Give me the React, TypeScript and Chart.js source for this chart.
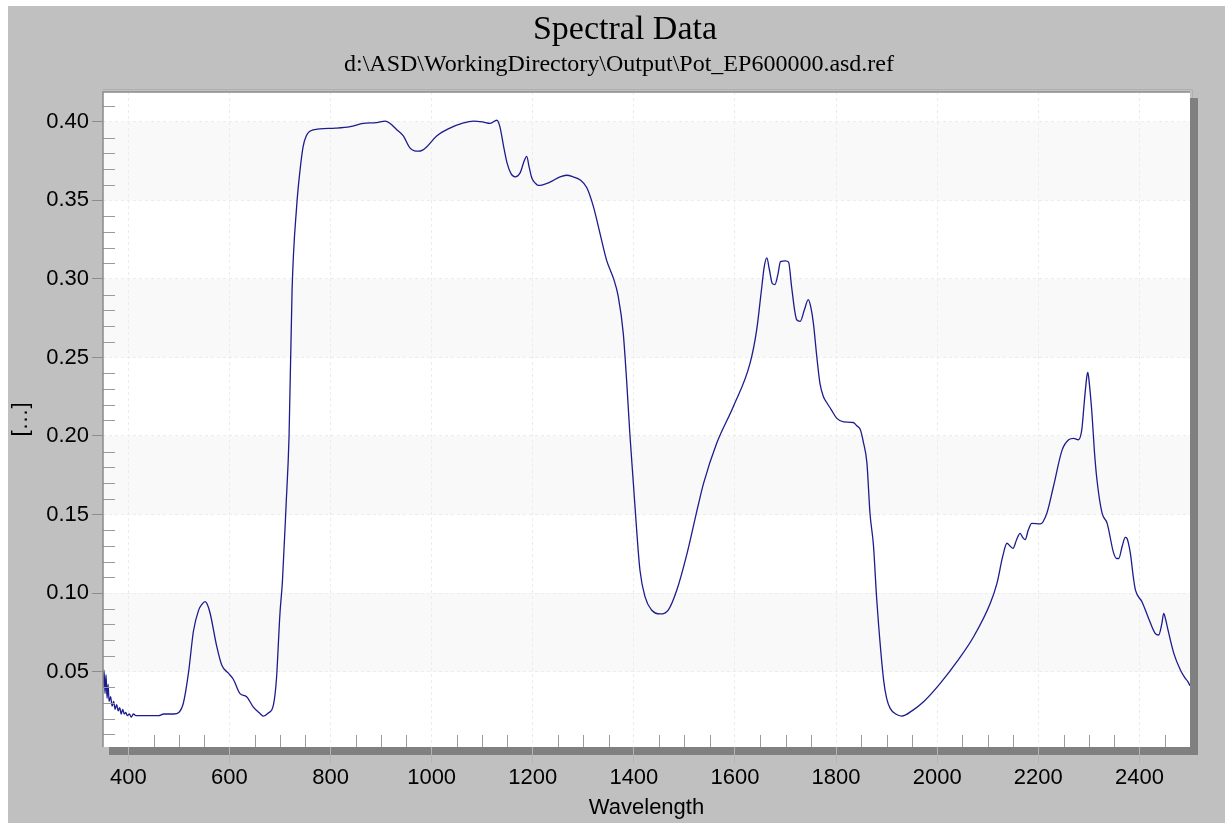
import React, { useEffect, useRef } from "react";
import { Chart, registerables } from "chart.js";

Chart.register(...registerables);

// Spectral reflectance
const wavelengths = [
  350, 352, 354, 356, 358, 360, 362, 365, 368, 371, 374, 377, 380, 383, 386, 389, 392, 395, 398,
  402, 406, 410, 415, 420, 430, 440, 450, 460, 470, 480, 490, 500, 509, 519, 529, 539, 546, 552,
  556, 562, 575, 585, 598, 608, 621, 634, 647, 660, 667, 677, 687, 693, 700, 705, 712, 718, 724,
  733, 740, 746, 752, 759, 779, 810, 839, 865, 891, 908, 918, 931, 944, 957, 966, 974, 982, 990,
  1010, 1036, 1060, 1083, 1100, 1116, 1129, 1135, 1142, 1149, 1157, 1165, 1175, 1183, 1188, 1193,
  1198, 1205, 1211, 1234, 1254, 1267, 1280, 1294, 1307, 1320, 1333, 1346, 1360, 1369, 1379, 1386,
  1392, 1399, 1406, 1412, 1422, 1435, 1452, 1468, 1485, 1505, 1528, 1538, 1564, 1597, 1630, 1643,
  1652, 1658, 1663, 1668, 1674, 1679, 1685, 1690, 1700, 1706, 1712, 1718, 1722, 1729, 1737, 1745,
  1750, 1755, 1762, 1768, 1775, 1782, 1790, 1801, 1815, 1834, 1841, 1848, 1854, 1861, 1867, 1874,
  1880, 1884, 1894, 1900, 1907, 1918, 1930, 1950, 1973, 2006, 2039, 2072, 2105, 2118, 2130, 2138,
  2144, 2150, 2157, 2164, 2169, 2174, 2180, 2187, 2204, 2217, 2230, 2247, 2260, 2270, 2279, 2286,
  2291, 2296, 2298, 2301, 2306, 2311, 2316, 2326, 2336, 2349, 2355, 2359, 2366, 2372, 2375, 2382,
  2388, 2392, 2405, 2418, 2431, 2438, 2444, 2448, 2452, 2455, 2468, 2481, 2490, 2496, 2500,
];

const reflectance = [
  0.040, 0.051, 0.036, 0.048, 0.033, 0.042, 0.031, 0.034, 0.028, 0.031, 0.026, 0.029, 0.025, 0.027,
  0.023, 0.026, 0.023, 0.024, 0.022, 0.023, 0.021, 0.023, 0.022, 0.022, 0.022, 0.022, 0.022, 0.022,
  0.023, 0.023, 0.023, 0.024, 0.030, 0.049, 0.076, 0.089, 0.093, 0.0945, 0.093, 0.087, 0.066, 0.054,
  0.049, 0.045, 0.036, 0.034, 0.0276, 0.0235, 0.0217, 0.0236, 0.0287, 0.045, 0.087, 0.108, 0.155,
  0.200, 0.293, 0.346, 0.370, 0.3845, 0.391, 0.394, 0.3955, 0.396, 0.397, 0.399, 0.3995, 0.4005,
  0.399, 0.395, 0.391, 0.3834, 0.3815, 0.3813, 0.382, 0.384, 0.391, 0.396, 0.399, 0.4005, 0.400,
  0.399, 0.401, 0.397, 0.385, 0.374, 0.367, 0.365, 0.3675, 0.375, 0.378, 0.371, 0.3644, 0.361,
  0.3595, 0.3616, 0.365, 0.366, 0.365, 0.363, 0.358, 0.346, 0.329, 0.312, 0.300, 0.289, 0.2655,
  0.2337, 0.2018, 0.170, 0.138, 0.1147, 0.0977, 0.0892, 0.0867, 0.0892, 0.102, 0.125, 0.157, 0.170,
  0.1955, 0.219, 0.2465, 0.2677, 0.292, 0.308, 0.3134, 0.306, 0.297, 0.2964, 0.303, 0.311, 0.3115,
  0.3107, 0.295, 0.280, 0.274, 0.273, 0.280, 0.2868, 0.282, 0.272, 0.250, 0.2337, 0.225, 0.221,
  0.217, 0.2114, 0.209, 0.2086, 0.2065, 0.204, 0.196, 0.1827, 0.151, 0.130, 0.0977, 0.080, 0.0446,
  0.033, 0.0266, 0.023, 0.0217, 0.025, 0.0308, 0.0425, 0.0563, 0.0722, 0.0935, 0.106, 0.124, 0.1317,
  0.130, 0.1285, 0.134, 0.138, 0.1355, 0.134, 0.140, 0.1444, 0.144, 0.151, 0.168, 0.191, 0.1976,
  0.1985, 0.1976, 0.204, 0.222, 0.238, 0.2405, 0.233, 0.2146, 0.190, 0.172, 0.151, 0.1445, 0.1254,
  0.122, 0.122, 0.130, 0.1355, 0.135, 0.1254, 0.110, 0.102, 0.0945, 0.084, 0.0744, 0.0733, 0.080,
  0.087, 0.083, 0.0786, 0.0616, 0.051, 0.046, 0.0435, 0.041,
];

const xTickValues = [400, 600, 800, 1000, 1200, 1400, 1600, 1800, 2000, 2200, 2400];
const yTickValues = [0.05, 0.1, 0.15, 0.2, 0.25, 0.3, 0.35, 0.4];
const shadedBands = [
  [0.05, 0.1],
  [0.15, 0.2],
  [0.25, 0.3],
  [0.35, 0.4],
];
const xRange = [350, 2500];
const yRange = [0.002, 0.419];
const xMinorStep = 50;
const yMinorStep = 0.01;

const TITLE = "Spectral Data";
const SUBTITLE = "d:\\ASD\\WorkingDirectory\\Output\\Pot_EP600000.asd.ref";
const X_TITLE = "Wavelength";
const Y_TITLE = "[…]";

const CANVAS_W = 1217;
const CANVAS_H = 817;

const headerPlugin = {
  id: "headerPlugin",
  afterDraw(chart: any) {
    const { ctx } = chart;
    ctx.save();
    ctx.fillStyle = "#000000";
    ctx.textAlign = "center";
    ctx.textBaseline = "middle";
    ctx.font = "34px 'Liberation Serif', 'Times New Roman', serif";
    ctx.fillText(TITLE, 617, 24);
    ctx.font = "24px 'Liberation Serif', 'Times New Roman', serif";
    ctx.fillText(SUBTITLE, 611, 59);
    ctx.restore();
  },
};

const framePlugin = {
  id: "framePlugin",
  beforeDraw(chart: any) {
    const { ctx, chartArea } = chart;
    const { left, right, top, bottom } = chartArea;
    const y = chart.scales.y;
    ctx.save();
    // drop shadow
    ctx.fillStyle = "#808080";
    ctx.fillRect(right, top + 6, 8, bottom - top + 2);
    ctx.fillRect(left + 6, bottom, right - left + 2, 8);
    // plot background
    ctx.fillStyle = "#ffffff";
    ctx.fillRect(left, top, right - left, bottom - top);
    ctx.fillStyle = "#f9f9f9";
    for (const [a, b] of shadedBands) {
      const y1 = y.getPixelForValue(b);
      const y2 = y.getPixelForValue(a);
      ctx.fillRect(left, y1, right - left, y2 - y1);
    }
    ctx.restore();
  },
  afterDraw(chart: any) {
    const { ctx, chartArea } = chart;
    const { left, right, top, bottom } = chartArea;
    const xs = chart.scales.x;
    const ys = chart.scales.y;
    ctx.save();
    ctx.strokeStyle = "#9a9a9a";
    ctx.lineWidth = 1;
    ctx.beginPath();
    // x minor ticks
    for (let v = xRange[0] + xMinorStep; v < xRange[1]; v += xMinorStep) {
      if (xTickValues.some((t) => Math.abs(t - v) < 1e-6)) continue;
      const px = Math.round(xs.getPixelForValue(v)) + 0.5;
      ctx.moveTo(px, bottom);
      ctx.lineTo(px, bottom - 12);
    }
    // y minor ticks
    for (let i = 1; i * yMinorStep < yRange[1]; i++) {
      const v = i * yMinorStep;
      if (v < yRange[0]) continue;
      if (yTickValues.some((t) => Math.abs(t - v) < 1e-6)) continue;
      const py = Math.round(ys.getPixelForValue(v)) + 0.5;
      ctx.moveTo(left, py);
      ctx.lineTo(left + 12, py);
    }
    ctx.stroke();
    // frame
    ctx.strokeStyle = "#8a8a8a";
    ctx.lineWidth = 1.5;
    ctx.beginPath();
    ctx.moveTo(left, bottom);
    ctx.lineTo(left, top);
    ctx.lineTo(right, top);
    ctx.stroke();
    ctx.strokeStyle = "#b0b0b0";
    ctx.lineWidth = 1;
    ctx.beginPath();
    ctx.moveTo(left - 0.5, top - 2.5);
    ctx.lineTo(right + 2.5, top - 2.5);
    ctx.lineTo(right + 2.5, top + 6);
    ctx.stroke();
    ctx.restore();
  },
};

export default function App() {
  const canvasRef = useRef<HTMLCanvasElement | null>(null);

  useEffect(() => {
    const canvas = canvasRef.current;
    if (!canvas) return;
    const points = wavelengths.map((w, i) => ({ x: w, y: reflectance[i] }));
    const chart = new Chart(canvas, {
      type: "line",
      data: {
        datasets: [
          {
            data: points,
            borderColor: "#1c1c8e",
            borderWidth: 1.3,
            pointRadius: 0,
            fill: false,
            cubicInterpolationMode: "monotone",
          },
        ],
      },
      options: {
        animation: false,
        responsive: false,
        devicePixelRatio: 1,
        events: [],
        layout: { padding: { left: 0, right: 35, top: 86, bottom: 0 } },
        plugins: {
          legend: { display: false },
          tooltip: { enabled: false },
          title: { display: false },
        },
        scales: {
          x: {
            type: "linear",
            min: xRange[0],
            max: xRange[1],
            afterBuildTicks: (s: any) => {
              s.ticks = xTickValues.map((v) => ({ value: v }));
            },
            afterFit: (s: any) => {
              s.height = 76;
            },
            grid: {
              color: "#ececec",
              lineWidth: 1,
              drawTicks: true,
              tickLength: 16,
              tickColor: "#b4b4b4",
              tickWidth: 1,
            },
            border: { display: false, dash: [3, 3] },
            ticks: {
              autoSkip: false,
              maxRotation: 0,
              padding: 2,
              color: "#000000",
              font: { family: "'Liberation Sans', Arial, sans-serif", size: 22 },
              callback: (v: any) => String(v),
            },
            title: {
              display: true,
              text: X_TITLE,
              color: "#000000",
              font: { family: "'Liberation Sans', Arial, sans-serif", size: 22 },
              padding: { top: 0, bottom: 2 },
            },
          },
          y: {
            type: "linear",
            min: yRange[0],
            max: yRange[1],
            afterBuildTicks: (s: any) => {
              s.ticks = yTickValues.map((v) => ({ value: v }));
            },
            afterFit: (s: any) => {
              s.width = 95;
            },
            grid: {
              color: "#ececec",
              lineWidth: 1,
              drawTicks: true,
              tickLength: 11,
              tickColor: "#8c8c8c",
              tickWidth: 1,
            },
            border: { display: false, dash: [3, 3] },
            ticks: {
              autoSkip: false,
              padding: 3,
              color: "#000000",
              font: { family: "'Liberation Sans', Arial, sans-serif", size: 22 },
              callback: (v: any) => Number(v).toFixed(2),
            },
            title: {
              display: true,
              text: Y_TITLE,
              color: "#000000",
              font: { family: "'Liberation Sans', Arial, sans-serif", size: 22 },
              padding: { top: 0, bottom: 0 },
            },
          },
        },
      },
      plugins: [framePlugin, headerPlugin],
    });
    return () => chart.destroy();
  }, []);

  return (
    <div
      style={{
        position: "fixed",
        left: 8,
        top: 6,
        width: CANVAS_W,
        height: CANVAS_H,
        background: "#c0c0c0",
        overflow: "hidden",
      }}
    >
      <canvas ref={canvasRef} width={CANVAS_W} height={CANVAS_H} style={{ display: "block" }} />
    </div>
  );
}
